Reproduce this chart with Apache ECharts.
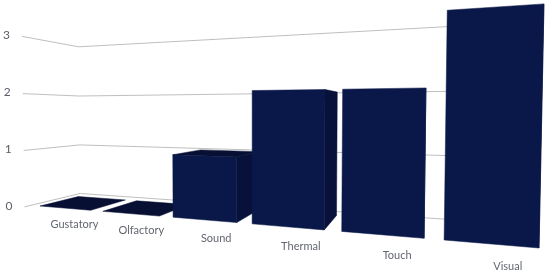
<!DOCTYPE html>
<html>
<head>
<meta charset="utf-8">
<style>html,body{margin:0;padding:0;background:#fff}#c{width:550px;height:274px}</style>
<script src="https://cdn.jsdelivr.net/npm/echarts@6/dist/echarts.min.js"></script>
</head>
<body>
<div id="c"></div>
<script>
const categories = ['Gustatory', 'Olfactory', 'Sound', 'Thermal', 'Touch', 'Visual'];
const values = [0, 0, 1, 2, 2, 3];
const yTicks = [0, 1, 2, 3];

// Perspective camera: world (u = category position, v = value, d = depth) to screen.
const CAM = {A: -1091.6, B: 21500, beta: -98, alpha: -0.0732, A2: 110.8, B2: 1809, K: 1065, delta: 2.1, dvx: 425, u0: 19};
function project(u, v, d) {
  const c = CAM;
  const w0 = c.u0 - u + c.alpha * v;
  const W = w0 + c.delta * d;
  const Xh = c.A * w0 + c.B + c.beta * v + c.dvx * c.delta * d;
  const Yh = c.A2 * w0 + c.B2 - c.K * v + c.A2 * c.delta * d;
  return [Xh / W, Yh / W];
}
const BAR_W = 0.815, WALL_L = -0.15, WALL_F = -0.15, WALL_B = 1.3, WALL_R = 5.2;
const COL_FRONT = '#0a1849', COL_SIDE = '#07113a', COL_TOP = '#070f33';

function worldV(api, x, val) {
  return (api.coord([x, 0])[1] - api.coord([x, val])[1]) / api.size([0, 1])[1];
}
function face(pts, color) {
  return {type: 'polygon', shape: {points: pts}, style: {fill: color, stroke: color, lineWidth: 0.5}};
}
function renderBar(params, api) {
  const i = api.value(0);
  const v = worldV(api, i, api.value(1));
  const a = i, b = i + BAR_W;
  const children = [];
  if (v > 0) {
    children.push(face([project(b, 0, 0), project(b, v, 0), project(b, v, 1), project(b, 0, 1)], COL_SIDE));
  }
  // The top face is only seen while it lies below the horizon.
  if (project(a, v, 1)[1] < project(a, v, 0)[1]) {
    children.push(face([project(a, v, 0), project(b, v, 0), project(b, v, 1), project(a, v, 1)], COL_TOP));
  }
  if (v > 0) {
    children.push(face([project(a, 0, 0), project(b, 0, 0), project(b, v, 0), project(a, v, 0)], COL_FRONT));
  }
  const lp = project(i + 0.56, -0.27, 0);
  children.push({type: 'text', style: {x: lp[0], y: lp[1], text: categories[i], fill: '#626670', font: '11px Lato', align: 'center', verticalAlign: 'middle'}});
  return {type: 'group', children: children};
}
function renderGrid(params, api) {
  const t = api.value(1);
  const v = worldV(api, 0, t);
  const p0 = project(WALL_L, v, WALL_F), p1 = project(WALL_L, v, WALL_B), p2 = project(WALL_R, v, WALL_B);
  return {type: 'group', children: [
    {type: 'polyline', shape: {points: [p0, p1, p2]}, style: {fill: 'none', stroke: '#bfbfbf', lineWidth: 1}},
    {type: 'text', style: {x: p0[0] - 15.5, y: p0[1] - 1, text: String(t), fill: '#5c5f68', font: '12px Lato', align: 'center', verticalAlign: 'middle'}}
  ]};
}
const chart = echarts.init(document.getElementById('c'), null, {renderer: 'canvas'});
chart.setOption({
  animation: false,
  backgroundColor: '#fff',
  grid: {left: 0, right: 0, top: 0, bottom: 0},
  xAxis: {type: 'category', data: categories, show: false},
  yAxis: {type: 'value', min: 0, max: 3, interval: 1, show: false},
  series: [
    {type: 'custom', clip: false, z: 1, silent: true, renderItem: renderGrid, encode: {x: 0, y: 1},
      data: yTicks.map(t => [0, t])},
    {type: 'custom', clip: false, z: 2, silent: true, renderItem: renderBar, encode: {x: 0, y: 1},
      data: values.map((v, i) => [i, v])}
  ]
});
</script>
</body>
</html>
